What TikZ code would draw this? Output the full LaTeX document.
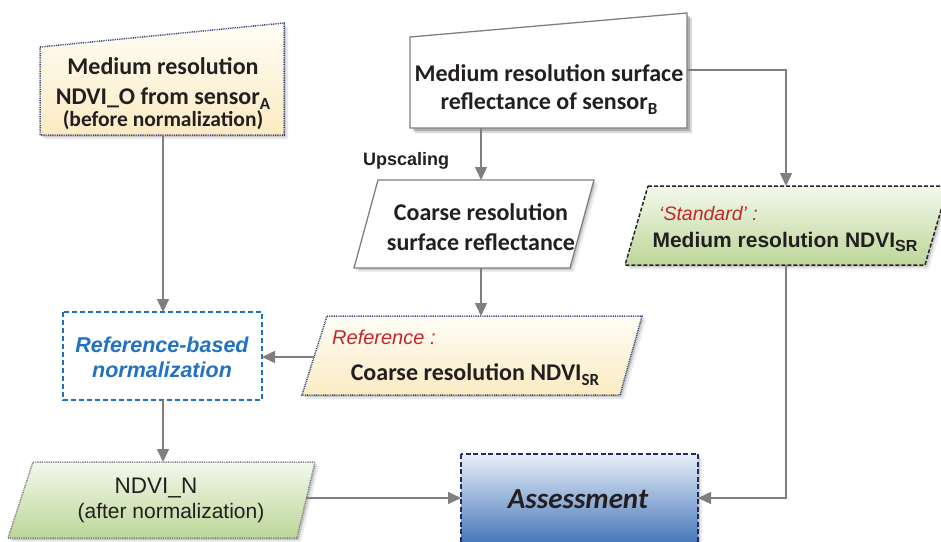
\documentclass[tikz,border=0pt]{standalone}
\usepackage{fontspec}
\setmainfont{Carlito}
\newfontfamily\arialfont{Liberation Sans}
\usetikzlibrary{arrows.meta}

\definecolor{ink}{HTML}{231F20}
\definecolor{linkgray}{HTML}{7F7F7F}
\definecolor{labelred}{HTML}{C4262E}
\definecolor{normblue}{HTML}{2272C3}
\definecolor{navy}{HTML}{1F2A66}
\definecolor{dotnavy}{HTML}{3A4778}
\definecolor{creamtop}{HTML}{FFFDF6}
\definecolor{creambot}{HTML}{FBEBC2}
\definecolor{greentop}{HTML}{F3F8EC}
\definecolor{greenbot}{HTML}{BCD697}
\definecolor{bluetop}{HTML}{E8EFF8}
\definecolor{bluebot}{HTML}{3C70B5}

% lowered subscript in a chosen size
\newcommand\lowsub[2]{\raisebox{-0.22em}{\fontsize{#1}{#1}\selectfont #2}}

\tikzset{
  conn/.style={draw=linkgray, line width=1.5pt, -{Triangle[length=13pt,width=12pt]}},
  txt/.style={inner sep=0pt, anchor=base, text=ink},
  dotborder/.style={line width=1.5pt, dash pattern=on 0.9pt off 0.9pt},
}

\begin{document}
\begin{tikzpicture}[x=1pt,y=-1pt]
\useasboundingbox (0,0) rectangle (941,541);

% ---------- shadows ----------
\foreach \d/\o in {2/0.14,4/0.08} {
  \fill[black, opacity=\o, shift={(\d,\d)}] (40,47) -- (284,23) -- (284,135) -- (40,135) -- cycle;
  \fill[black, opacity=\o+0.06, shift={(\d+1,\d+1)}] (410,37) -- (687,13) -- (687,128) -- (410,128) -- cycle;
  \fill[black, opacity=\o, shift={(\d,\d)}] (378,180) -- (594,180) -- (570,268) -- (354,268) -- cycle;
  \fill[black, opacity=\o, shift={(\d,\d)}] (648,186) -- (948,186) -- (925,265) -- (625,265) -- cycle;
  \fill[black, opacity=\o, shift={(\d,\d)}] (327,316) -- (642,316) -- (620,395) -- (302,395) -- cycle;
  \fill[black, opacity=\o, shift={(\d,\d)}] (33,462) -- (315,462) -- (297,538) -- (8,538) -- cycle;
  \fill[black, opacity=\o, shift={(\d,\d)}] (461,454) rectangle (698,548);
}

% ---------- Medium resolution NDVI_O (sensor A) ----------
\path[top color=creamtop, bottom color=creambot, draw=dotnavy, dotborder]
  (40,47) -- (284,23) -- (284,135) -- (40,135) -- cycle;
\node[txt, font=\bfseries\fontsize{24}{28}\selectfont] (a1) at (163,74) {Medium resolution};
\node[txt, font=\bfseries\fontsize{24}{28}\selectfont] (a2) at (163,104) {NDVI\_O from sensor\lowsub{17}{A}};
\node[txt, font=\bfseries\fontsize{21.5}{25}\selectfont] (a3) at (163,126) {(before normalization)};
\coordinate (A-s) at (163,135);

% ---------- Medium resolution surface reflectance (sensor B) ----------
\path[fill=white, draw=linkgray, line width=1.3pt]
  (410,37) -- (687,13) -- (687,128) -- (410,128) -- cycle;
\node[txt, font=\bfseries\fontsize{24}{28}\selectfont] (b1) at (549,81) {Medium resolution surface};
\node[txt, font=\bfseries\fontsize{24}{28}\selectfont] (b2) at (549,109) {reflectance of sensor\lowsub{17}{B}};
\coordinate (B-s) at (481,128);
\coordinate (B-e) at (687,70);
\coordinate (B-turn) at (786,70);

\node[txt, font=\arialfont\bfseries\fontsize{18}{21}\selectfont, anchor=base west] (up) at (363,165) {Upscaling};

% ---------- Coarse resolution surface reflectance ----------
\path[fill=white, draw=linkgray, line width=1.3pt]
  (378,180) -- (594,180) -- (570,268) -- (354,268) -- cycle;
\node[txt, font=\bfseries\fontsize{24}{28}\selectfont] (c1) at (481,220) {Coarse resolution};
\node[txt, font=\bfseries\fontsize{24}{28}\selectfont] (c2) at (481,250) {surface reflectance};
\coordinate (C-n) at (481,180);
\coordinate (C-s) at (481,268);

% ---------- 'Standard' : Medium resolution NDVI_SR ----------
\path[top color=greentop, bottom color=greenbot, draw=black!85, line width=1.5pt, dash pattern=on 4pt off 2pt]
  (648,186) -- (948,186) -- (925,265) -- (625,265) -- cycle;
\node[txt, font=\arialfont\itshape\fontsize{19.5}{23}\selectfont, text=labelred, anchor=base west] (s1) at (659,220) {‘Standard’ :};
\node[txt, font=\arialfont\bfseries\fontsize{21}{25}\selectfont] (s2) at (785,247) {Medium resolution NDVI\lowsub{16}{SR}};
\coordinate (S-n) at (786,186);
\coordinate (S-s) at (786,265);
\coordinate (S-turn) at (786,498);

% ---------- Reference-based normalization ----------
\path[fill=white, draw=normblue, line width=1.8pt, dash pattern=on 5pt off 3pt]
  (63,312) rectangle (262,400);
\node[txt, font=\arialfont\bfseries\itshape\fontsize{21.5}{25}\selectfont, text=normblue] (r1) at (162,352) {Reference-based};
\node[txt, font=\arialfont\bfseries\itshape\fontsize{21.5}{25}\selectfont, text=normblue] (r2) at (162,377) {normalization};
\coordinate (R-n) at (163,312);
\coordinate (R-s) at (163,400);
\coordinate (R-e) at (262,357);

% ---------- Reference : Coarse resolution NDVI_SR ----------
\path[top color=creamtop, bottom color=creambot, draw=dotnavy, dotborder]
  (327,316) -- (642,316) -- (620,395) -- (302,395) -- cycle;
\node[txt, font=\arialfont\itshape\fontsize{20}{24}\selectfont, text=labelred, anchor=base west] (f1) at (332,344) {Reference :};
\node[txt, font=\bfseries\fontsize{24}{28}\selectfont] (f2) at (475,380) {Coarse resolution NDVI\lowsub{17}{SR}};
\coordinate (F-n) at (481,316);
\coordinate (F-w) at (314,357);

% ---------- NDVI_N (after normalization) ----------
\path[top color=greentop, bottom color=greenbot, draw=linkgray, dotborder]
  (33,462) -- (315,462) -- (297,538) -- (8,538) -- cycle;
\node[txt, font=\arialfont\fontsize{22.5}{26}\selectfont] (n1) at (156,493) {NDVI\_N};
\node[txt, font=\arialfont\fontsize{21}{25}\selectfont] (n2) at (171,518) {(after normalization)};
\coordinate (N-n) at (163,462);
\coordinate (N-e) at (306,498);

% ---------- Assessment ----------
\path[top color=bluetop, bottom color=bluebot, draw=navy, line width=1.8pt, dash pattern=on 5pt off 2.5pt]
  (461,454) rectangle (698,548);
\node[txt, font=\bfseries\itshape\fontsize{29}{33}\selectfont] (as) at (578,508) {Assessment};
\coordinate (AS-w) at (461,498);
\coordinate (AS-e) at (698,498);

% ---------- connectors ----------
\draw[conn] (A-s) -- (R-n);
\draw[conn] (R-s) -- (N-n);
\draw[conn] (B-s) -- (C-n);
\draw[conn] (C-s) -- (F-n);
\draw[conn] (F-w) -- (R-e);
\draw[conn] (B-e) -- (B-turn) -- (S-n);
\draw[conn] (S-s) -- (S-turn) -- (AS-e);
\draw[conn] (N-e) -- (AS-w);
\end{tikzpicture}
\end{document}
